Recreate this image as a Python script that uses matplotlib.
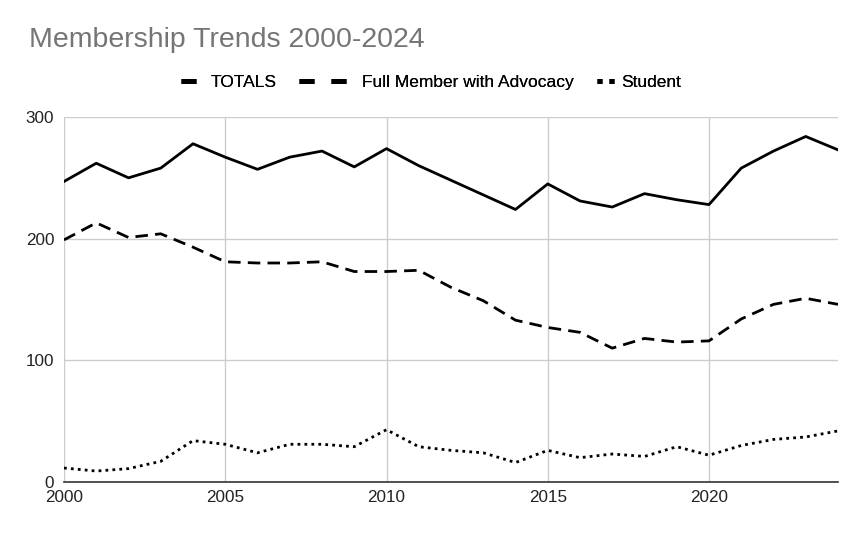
import matplotlib.pyplot as plt
from matplotlib.lines import Line2D

years = list(range(2000, 2025))
totals = [247, 262, 250, 258, 278, 267, 257, 267, 272, 259, 274, 260, 248, 236, 224,
          245, 231, 226, 237, 232, 228, 258, 272, 284, 273]
full_member = [199, 213, 201, 204, 193, 181, 180, 180, 181, 173, 173, 174, 160, 149, 133,
               127, 123, 110, 118, 115, 116, 134, 146, 151, 146]
student = [11.5, 9, 11, 17, 34, 31, 24, 31, 31, 29, 43, 29, 26, 24, 16,
           26, 20, 23, 21, 29, 22, 30, 35, 37, 42]
series_names = ['TOTALS', 'Full Member with Advocacy', 'Student']

plt.rcParams['font.family'] = ['Liberation Sans', 'DejaVu Sans']

fig = plt.figure(figsize=(8.66, 5.35), dpi=100)
ax = fig.add_axes([64 / 866, 1 - 482 / 535, (838 - 64) / 866, (482 - 117) / 535])

ax.plot(years, totals, color='black', lw=2)
ax.plot(years, full_member, color='black', lw=2, dashes=(4.5, 2.6))
ax.plot(years, student, color='black', lw=2, dashes=(1.0, 1.5))

ax.set_xlim(2000, 2024)
ax.set_ylim(0, 300)
ax.set_xticks([2000, 2005, 2010, 2015, 2020])
ax.set_yticks([0, 100, 200, 300])
ax.grid(True, color='#cccccc', lw=1)
ax.set_axisbelow(True)
for s in ['top', 'right', 'left']:
    ax.spines[s].set_visible(False)
ax.spines['bottom'].set_color('#333333')
ax.spines['bottom'].set_linewidth(1.2)
ax.tick_params(length=0, labelsize=12.3, colors='#222222')
ax.tick_params(axis='x', pad=6)
ax.tick_params(axis='y', pad=7)

fig.text(29 / 866, 1 - 47 / 535, 'Membership Trends 2000-2024', fontsize=20.5, color='#757575',
         va='baseline', ha='left')

# legend: three small legends so each key has its own width
lw_key = 3.6
keys = [
    (Line2D([], [], color='black', lw=lw_key, solid_capstyle='butt'), 181, 0.86, 0.86),
    (Line2D([], [], color='black', lw=lw_key, dashes=(3, 3.4, 3, 30), dash_capstyle='butt'), 299, 2.76, 0.86),
    (Line2D([], [], color='black', lw=lw_key, dashes=(1, 1.4, 1, 30), dash_capstyle='butt'), 597, 0.98, 0.4),
]
for (h, x0, hl, tp), name in zip(keys, series_names):
    leg = fig.legend(handles=[h], labels=[name], loc='center left',
                     bbox_to_anchor=(x0 / 866, 1 - 82 / 535), frameon=False, fontsize=12.5,
                     handlelength=hl, handletextpad=tp, borderpad=0, borderaxespad=0)
    fig.add_artist(leg)

fig.savefig('out.png', dpi=100)
